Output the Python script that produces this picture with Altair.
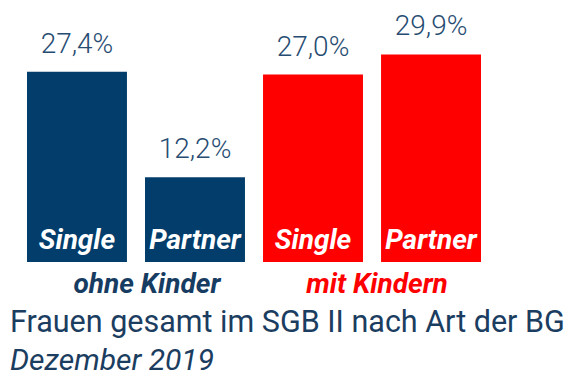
import altair as alt
import pandas as pd

cats = ["ohne_Single", "ohne_Partner", "mit_Single", "mit_Partner"]
bar_labels = ["Single", "Partner", "Single", "Partner"]
values = [27.4, 12.2, 27.0, 29.9]
value_text = ["27,4%", "12,2%", "27,0%", "29,9%"]
group = ["ohne", "ohne", "mit", "mit"]
group_labels = ["ohne Kinder", "mit Kindern"]
title_text = "Frauen gesamt im SGB II nach Art der BG"
subtitle_text = "Dezember 2019"

BLUE = "#023d6b"
RED = "#ff0000"
TXT = "#1b3d5f"

df = pd.DataFrame({"cat": cats, "lab": bar_labels, "val": values,
                   "txt": value_text, "grp": group})

x = alt.X("cat:N", sort=cats, axis=None,
          scale=alt.Scale(paddingInner=0.153, paddingOuter=0.144))
y = alt.Y("val:Q", axis=None, scale=alt.Scale(domain=[0, 36.6], nice=False))
color = alt.Color("grp:N", legend=None,
                  scale=alt.Scale(domain=["ohne", "mit"], range=[BLUE, RED]))

base = alt.Chart(df)

bars = base.mark_bar().encode(x=x, y=y, color=color)

vals = base.mark_text(font="Roboto", fontWeight=300, fontSize=28, color="#274c72",
                      baseline="alphabetic", dy=-19).encode(x=x, y=y, text="txt:N")

inner = base.mark_text(font="Roboto", fontWeight="bold", fontStyle="italic",
                       fontSize=28, color="white", baseline="alphabetic",
                       dy=-13).encode(x=x, y=alt.datum(0), text="lab:N")

g1 = alt.Chart(pd.DataFrame({"cat": [cats[0]], "g": [group_labels[0]]})).mark_text(
    font="Roboto", fontWeight="bold", fontStyle="italic", fontSize=28, color="#173c62",
    baseline="alphabetic", dx=70, dy=31).encode(x=x, y=alt.datum(0), text="g:N")

g2 = alt.Chart(pd.DataFrame({"cat": [cats[2]], "g": [group_labels[1]]})).mark_text(
    font="Roboto", fontWeight="bold", fontStyle="italic", fontSize=28, color=RED,
    baseline="alphabetic", dx=64, dy=31).encode(x=x, y=alt.datum(0), text="g:N")

chart = alt.layer(bars, vals, inner, g1, g2).properties(
    width=488, height=254,
    padding={"left": 2, "top": 0, "right": 70, "bottom": 113},
    autosize=alt.AutoSizeParams(type="none"),
    title=alt.TitleParams(
        text=title_text, subtitle=subtitle_text, orient="bottom", anchor="start",
        font="Roboto", fontSize=30.5, fontWeight="normal", color=TXT,
        subtitleFont="Roboto", subtitleFontSize=30, subtitleFontStyle="italic",
        subtitleColor=TXT, offset=9, subtitlePadding=7),
).configure_view(stroke=None)

chart.save("out.html", embed_options={"renderer": "svg", "actions": False})
